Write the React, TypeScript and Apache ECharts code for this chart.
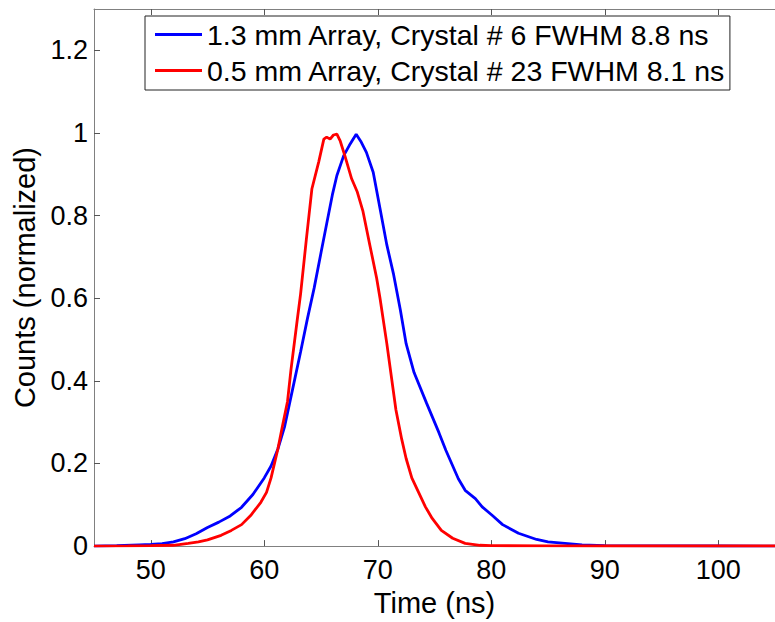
import React, { useEffect, useRef } from "react";
import * as echarts from "echarts";

const seriesNames = [
  "1.3 mm Array, Crystal # 6 FWHM 8.8 ns",
  "0.5 mm Array, Crystal # 23 FWHM 8.1 ns",
];

const blueTime = [
  45, 47, 49, 50, 51, 52, 53, 54, 55, 56, 57, 58, 59, 60, 60.6, 61.2, 61.8,
  62.5, 63.2, 63.8, 64.4, 65, 65.5, 66, 66.4, 67, 67.5, 68.1, 68.5, 69, 69.6,
  70.2, 70.8, 71.4, 72, 72.5, 73.2, 74.3, 75.4, 76, 77.1, 77.7, 78.6, 79.2,
  80.1, 81, 82.4, 84, 85, 86.5, 88, 90, 95, 100, 105,
];
const blueCounts = [
  0, 0.001, 0.003, 0.004, 0.006, 0.01, 0.018, 0.03, 0.045, 0.058, 0.073,
  0.094, 0.125, 0.165, 0.194, 0.235, 0.29, 0.38, 0.47, 0.55, 0.625, 0.71, 0.78,
  0.85, 0.897, 0.945, 0.97, 0.997, 0.98, 0.953, 0.905, 0.817, 0.729, 0.657,
  0.57, 0.49, 0.42, 0.346, 0.274, 0.232, 0.163, 0.135, 0.115, 0.095, 0.074,
  0.052, 0.031, 0.016, 0.01, 0.0065, 0.003, 0.001, 0.0005, 0.0002, 0,
];

const redTime = [
  45, 48, 50, 52, 53.3, 54.2, 55, 56.2, 57.1, 58, 58.8, 59.7, 60.2, 60.6, 61.2,
  61.6, 62.05, 62.35, 62.9, 63.2, 63.7, 64.2, 64.8, 65.25, 65.5, 65.8, 66.1,
  66.4, 66.7, 67.1, 67.7, 68.2, 68.7, 69.3, 69.9, 70.2, 70.8, 71.6, 72.1, 72.5,
  73, 73.6, 74.2, 74.8, 75.6, 76.6, 77.7, 79, 80, 85, 90, 105,
];
const redCounts = [
  0, 0.0005, 0.001, 0.002, 0.0065, 0.01, 0.015, 0.026, 0.038, 0.052, 0.074,
  0.106, 0.13, 0.165, 0.235, 0.29, 0.35, 0.426, 0.546, 0.61, 0.74, 0.865,
  0.93, 0.985, 0.99, 0.985, 0.995, 0.997, 0.98, 0.945, 0.889, 0.857, 0.81,
  0.729, 0.649, 0.6, 0.49, 0.33, 0.26, 0.212, 0.165, 0.13, 0.095, 0.067, 0.038,
  0.019, 0.0065, 0.002, 0.001, 0.0005, 0.0003, 0.0002,
];

const xTicks = [50, 60, 70, 80, 90, 100];
const yTicks = [0, 0.2, 0.4, 0.6, 0.8, 1, 1.2];

const FONT = "'Liberation Sans', Arial, Helvetica, sans-serif";
const AXIS_GREY = "#808080";

export default function App() {
  const ref = useRef<HTMLDivElement>(null);

  useEffect(() => {
    if (!ref.current) return;
    const chart = echarts.init(ref.current, undefined, { renderer: "svg" });
    const tickFont = 27;
    const textFont = 29;
    const legendFont = 28.5;
    const tickStyle = { inside: true, length: 6, lineStyle: { color: "#555" } };
    chart.setOption({
      animation: false,
      backgroundColor: "#ffffff",
      textStyle: { fontFamily: FONT },
      grid: { left: 94, right: -7, top: 9, bottom: 71, containLabel: false },
      legend: {
        orient: "vertical",
        left: 145,
        top: 16,
        padding: [4, 4, 5, 10],
        itemGap: 7,
        itemWidth: 47,
        itemHeight: 3,
        icon: "rect",
        borderColor: "#222",
        borderWidth: 1,
        backgroundColor: "#fff",
        textStyle: {
          fontSize: legendFont,
          fontFamily: FONT,
          color: "#000",
          lineHeight: 29,
        },
        data: seriesNames,
      },
      xAxis: [
        {
          type: "value",
          min: 45,
          max: 105,
          interval: 5,
          position: "bottom",
          splitLine: { show: false },
          axisLine: { lineStyle: { color: AXIS_GREY, width: 1 } },
          axisTick: { ...tickStyle, customValues: xTicks },
          axisLabel: {
            fontSize: tickFont,
            color: "#000",
            margin: 10,
            fontFamily: FONT,
            customValues: xTicks,
          },
          name: "Time (ns)",
          nameLocation: "middle",
          nameGap: 37,
          nameTextStyle: { fontSize: textFont, color: "#000", fontFamily: FONT },
        },
        {
          type: "value",
          min: 45,
          max: 105,
          interval: 5,
          position: "top",
          splitLine: { show: false },
          axisLine: { lineStyle: { color: AXIS_GREY, width: 1 } },
          axisTick: { ...tickStyle, customValues: xTicks },
          axisLabel: { show: false },
        },
      ],
      yAxis: {
        type: "value",
        min: 0,
        max: 1.3,
        splitLine: { show: false },
        axisLine: { show: true, lineStyle: { color: AXIS_GREY, width: 1 } },
        axisTick: { show: true, ...tickStyle, customValues: yTicks },
        axisLabel: {
          fontSize: tickFont,
          color: "#000",
          margin: 6,
          fontFamily: FONT,
          customValues: yTicks,
        },
        name: "Counts (normalized)",
        nameLocation: "middle",
        nameGap: 52,
        nameTextStyle: { fontSize: textFont, color: "#000", fontFamily: FONT },
      },
      series: [
        {
          name: seriesNames[0],
          type: "line",
          symbol: "none",
          xAxisIndex: 0,
          lineStyle: { color: "#0000ff", width: 2.8 },
          itemStyle: { color: "#0000ff" },
          data: blueTime.map((t, i) => [t, blueCounts[i]]),
        },
        {
          name: seriesNames[1],
          type: "line",
          symbol: "none",
          xAxisIndex: 0,
          lineStyle: { color: "#ff0000", width: 2.8 },
          itemStyle: { color: "#ff0000" },
          data: redTime.map((t, i) => [t, redCounts[i]]),
        },
      ],
    });
    return () => chart.dispose();
  }, []);

  return (
    <div
      ref={ref}
      style={{ position: "fixed", left: 0, top: 0, width: 775, height: 622 }}
    />
  );
}
